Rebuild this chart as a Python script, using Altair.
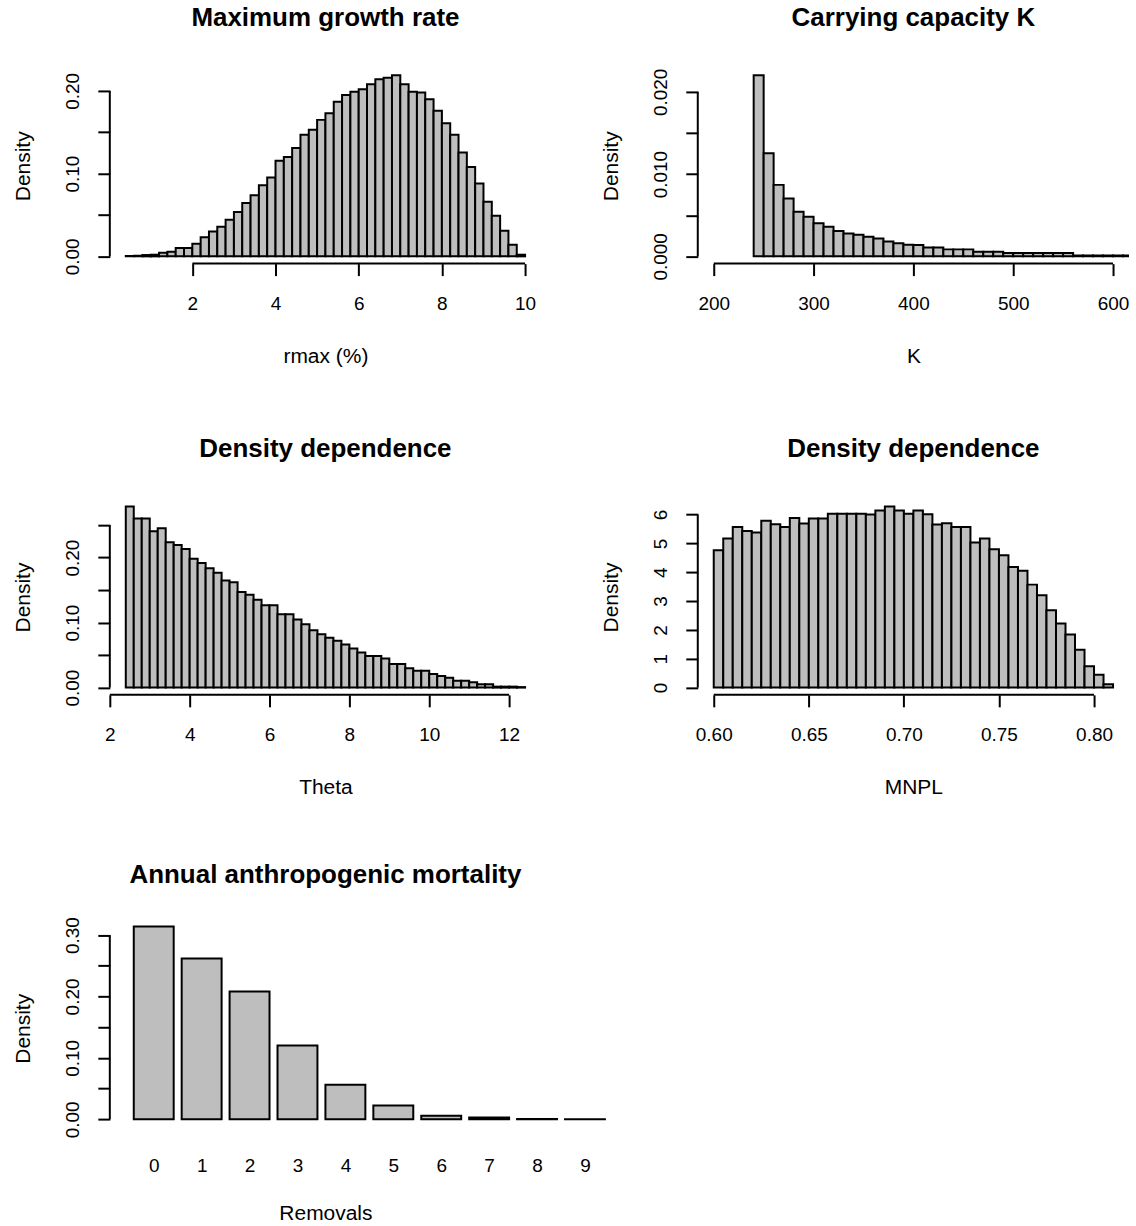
import json
import altair as alt
import pandas as pd

FONT = "Liberation Sans"
W, H = 432, 196
W5 = 500
FILL = "#BEBEBE"

# ---------------- data ----------------
# Maximum growth rate (rmax %), bins of 0.2 starting at 0.4
RMAX_START, RMAX_STEP = 0.4, 0.2
RMAX_DENSITY = [0.0005, 0.0008, 0.0016, 0.002, 0.0044, 0.0056, 0.010, 0.010, 0.0153, 0.023,
                0.030, 0.0358, 0.0443, 0.0535, 0.0644, 0.074, 0.086, 0.0954, 0.1155, 0.120,
                0.131, 0.147, 0.153, 0.165, 0.173, 0.187, 0.195, 0.199, 0.202, 0.208,
                0.214, 0.216, 0.219, 0.208, 0.199, 0.198, 0.190, 0.176, 0.161, 0.147,
                0.1256, 0.108, 0.088, 0.066, 0.049, 0.031, 0.014, 0.002]
RMAX_XLIM = (0.4, 10.0)
RMAX_XTICKS = [2, 4, 6, 8, 10]
RMAX_YTICKS = [0.0, 0.05, 0.10, 0.15, 0.20]
RMAX_YLABELS = ["0.00", "0.10", "0.20"]

# Carrying capacity K, bins of 10 starting at 240
K_START, K_STEP = 240, 10
K_DENSITY = [0.02202, 0.01253, 0.00869, 0.00703, 0.00541, 0.00481, 0.00404, 0.0036, 0.00307, 0.00279,
             0.00263, 0.00238, 0.00218, 0.00182, 0.00158, 0.00141, 0.00137, 0.00109, 0.00109, 0.00085,
             0.00085, 0.00085, 0.00057, 0.00057, 0.00057, 0.0004, 0.0004, 0.0004, 0.0004, 0.0004,
             0.0004, 0.0004, 0.0001, 0.0001, 0.0001, 0.0001, 0.0001, 0.0001]
K_XLIM = (200, 600)
K_XTICKS = [200, 300, 400, 500, 600]
K_YTICKS = [0.0, 0.005, 0.010, 0.015, 0.020]
K_YLABELS = ["0.000", "0.010", "0.020"]

# Theta, bins of 0.2 starting at 2.4
THETA_START, THETA_STEP = 2.4, 0.2
THETA_DENSITY = [0.2786, 0.2602, 0.2602, 0.2403, 0.2449, 0.2235, 0.2194, 0.2133, 0.198, 0.1918,
                 0.1837, 0.1765, 0.1648, 0.1622, 0.1469, 0.1429, 0.1352, 0.1265, 0.1265, 0.1128,
                 0.1128, 0.1046, 0.0974, 0.0883, 0.0821, 0.0765, 0.0719, 0.0663, 0.0602, 0.0541,
                 0.0485, 0.0485, 0.0449, 0.0362, 0.0362, 0.0296, 0.026, 0.026, 0.0209, 0.0179,
                 0.0153, 0.0107, 0.0107, 0.0082, 0.0051, 0.0051, 0.0015, 0.0015, 0.0015, 0.0008]
THETA_XLIM = (2.4, 12.4)
THETA_XTICKS = [2, 4, 6, 8, 10, 12]
THETA_YTICKS = [0.0, 0.05, 0.10, 0.15, 0.20, 0.25]
THETA_YLABELS = ["0.00", "0.10", "0.20"]

# MNPL, bins of 0.005 starting at 0.6
MNPL_START, MNPL_STEP = 0.6, 0.005
MNPL_DENSITY = [4.76, 5.17, 5.57, 5.43, 5.38, 5.78, 5.66, 5.57, 5.88, 5.69,
                5.86, 5.86, 6.03, 6.03, 6.03, 6.03, 6.00, 6.14, 6.28, 6.14,
                6.03, 6.14, 6.01, 5.65, 5.70, 5.57, 5.57, 5.03, 5.17, 4.80,
                4.59, 4.18, 4.05, 3.57, 3.20, 2.68, 2.22, 1.84, 1.31, 0.74,
                0.45, 0.12]
MNPL_XLIM = (0.6, 0.81)
MNPL_XTICKS = [0.60, 0.65, 0.70, 0.75, 0.80]
MNPL_YTICKS = [0, 1, 2, 3, 4, 5, 6]
MNPL_YLABELS = ["0", "1", "2", "3", "4", "5", "6"]

# Annual anthropogenic mortality (barplot)
REMOVALS = ["0", "1", "2", "3", "4", "5", "6", "7", "8", "9"]
REMOVALS_DENSITY = [0.314, 0.262, 0.208, 0.120, 0.0563, 0.0227, 0.006, 0.0032, 0.0005, 0.0002]
BAR_WIDTH, BAR_SPACE = 1.0, 0.2
REM_XLIM = (0, 10)
REM_YDOMAIN = [-0.011, 0.3075]
REM_YTICKS = [0.0, 0.05, 0.10, 0.15, 0.20, 0.25, 0.30]
REM_YLABELS = ["0.00", "0.10", "0.20", "0.30"]


def expand(lo, hi):
    d = 0.04 * (hi - lo)
    return [lo - d, hi + d]


def ylabel_expr(shown):
    return "indexof(%s, datum.label) >= 0 ? datum.label : ''" % json.dumps(shown)


def y_axis(ticks, fmt, shown, title="Density"):
    return alt.Axis(values=ticks, format=fmt, labelExpr=ylabel_expr(shown), domain=False,
                    grid=False, ticks=True, tickSize=12, tickWidth=2, tickColor="black",
                    labelAngle=270, labelAlign="center", labelBaseline="alphabetic",
                    labelPadding=19, labelFontSize=19, labelColor="black",
                    labelOverlap=False, labelFlush=False,
                    title=title, titleAngle=270, titleX=-80, titleY=H / 2,
                    titleAlign="center", titleBaseline="alphabetic",
                    titleFontSize=21, titleFontWeight="normal", titleColor="black")


def x_axis(ticks, fmt, title, ticks_on=True, labels=None, padding=34, title_y=99):
    kw = dict(values=ticks, format=fmt, domain=False, grid=False,
              ticks=ticks_on, tickSize=12 if ticks_on else 0, tickWidth=2, tickColor="black",
              labelAngle=0, labelAlign="center", labelBaseline="alphabetic",
              labelPadding=padding, labelFontSize=19, labelColor="black",
              labelOverlap=False, labelFlush=False,
              title=title, titleX=W / 2, titleY=title_y, titleAlign="center",
              titleBaseline="alphabetic", titleFontSize=21, titleFontWeight="normal",
              titleColor="black")
    if labels is not None:
        kw["labelExpr"] = labels
    return alt.Axis(**kw)


def title_params(text, offset, dx=0):
    return alt.TitleParams(text=text, offset=offset, frame="group", anchor="middle", dx=dx,
                           baseline="alphabetic", fontSize=26, fontWeight="bold",
                           font=FONT, color="black")


def build_panel(df, xdom, ydom, xax, yax, xticks, yticks, title, clip=False,
                title_offset=16, width=W, title_dx=0):
    xs = alt.Scale(domain=xdom, nice=False, zero=False)
    ys = alt.Scale(domain=ydom, nice=False, zero=False)
    bars = alt.Chart(df).mark_rect(fill=FILL, stroke="black", strokeWidth=2, clip=clip).encode(
        x=alt.X("x0:Q", scale=xs, axis=xax),
        x2="x1:Q",
        y=alt.Y("d:Q", scale=ys, axis=yax),
        y2=alt.datum(0),
    )
    layers = [bars]
    if xticks is not None:
        xline = pd.DataFrame({"x0": [xticks[0]], "x1": [xticks[-1]], "d": [ydom[0]]})
        layers.append(alt.Chart(xline).mark_rule(stroke="black", strokeWidth=2).encode(
            x=alt.X("x0:Q", scale=xs, axis=xax), x2="x1:Q",
            y=alt.Y("d:Q", scale=ys, axis=yax)))
    yline = pd.DataFrame({"x0": [xdom[0]], "d": [yticks[0]], "d2": [yticks[-1]]})
    layers.append(alt.Chart(yline).mark_rule(stroke="black", strokeWidth=2).encode(
        x=alt.X("x0:Q", scale=xs, axis=xax),
        y=alt.Y("d:Q", scale=ys, axis=yax), y2="d2:Q"))
    return alt.layer(*layers).properties(
        width=width, height=H, title=title_params(title, title_offset, title_dx))


def hist_panel(title, xtitle, start, step, dens, xlim, xticks, xfmt, yticks, yfmt, yshown, clip=False):
    n = len(dens)
    e = [round(start + step * i, 6) for i in range(n + 1)]
    df = pd.DataFrame({"x0": e[:-1], "x1": e[1:], "d": dens})
    xdom = expand(*xlim)
    ydom = expand(0, max(dens))
    return build_panel(df, xdom, ydom, x_axis(xticks, xfmt, xtitle), y_axis(yticks, yfmt, yshown),
                       xticks, yticks, title, clip=clip)


p1 = hist_panel("Maximum growth rate", "rmax (%)", RMAX_START, RMAX_STEP, RMAX_DENSITY,
                RMAX_XLIM, RMAX_XTICKS, "d", RMAX_YTICKS, ".2f", RMAX_YLABELS)
p2 = hist_panel("Carrying capacity K", "K", K_START, K_STEP, K_DENSITY,
                K_XLIM, K_XTICKS, "d", K_YTICKS, ".3f", K_YLABELS, clip=True)
p3 = hist_panel("Density dependence", "Theta", THETA_START, THETA_STEP, THETA_DENSITY,
                THETA_XLIM, THETA_XTICKS, "d", THETA_YTICKS, ".2f", THETA_YLABELS)
p4 = hist_panel("Density dependence", "MNPL", MNPL_START, MNPL_STEP, MNPL_DENSITY,
                MNPL_XLIM, MNPL_XTICKS, ".2f", MNPL_YTICKS, "d", MNPL_YLABELS)

# barplot (same pixel scale as R's xlim = c(0, 10); panel a bit wider so the last bar fits)
left = [BAR_SPACE + (BAR_WIDTH + BAR_SPACE) * i for i in range(len(REMOVALS))]
rem_df = pd.DataFrame({"x0": left, "x1": [l + BAR_WIDTH for l in left],
                       "d": REMOVALS_DENSITY, "lab": REMOVALS})
centers = [round(l + BAR_WIDTH / 2, 6) for l in left]
rem_label_expr = "%s[round((datum.value - %s) / %s)]" % (
    json.dumps(REMOVALS), centers[0], BAR_WIDTH + BAR_SPACE)
rem_xdom = expand(*REM_XLIM)
rem_xdom = [rem_xdom[0], rem_xdom[0] + (rem_xdom[1] - rem_xdom[0]) * W5 / W]
p5 = build_panel(rem_df, rem_xdom, REM_YDOMAIN,
                 x_axis(centers, ".1f", "Removals", ticks_on=False, labels=rem_label_expr,
                        padding=45, title_y=94),
                 y_axis(REM_YTICKS, ".2f", REM_YLABELS),
                 None, REM_YTICKS, "Annual anthropogenic mortality", title_offset=8,
                 width=W5, title_dx=-(W5 - W) / 2)

# column spacing is reduced by the extra width of the bottom panel (column 1 is W5 wide)
chart = alt.ConcatChart(
    concat=[p1, p2, p3, p4, p5],
    columns=2,
    spacing=alt.RowColnumber(row=236, column=157 - (W5 - W)),
    bounds="flush",
).properties(
    padding={"left": 12, "top": 3, "right": 6, "bottom": 0},
    background="white",
).configure(font=FONT).configure_view(stroke="transparent")

chart.save("out.html", embed_options={"renderer": "svg", "actions": False})
